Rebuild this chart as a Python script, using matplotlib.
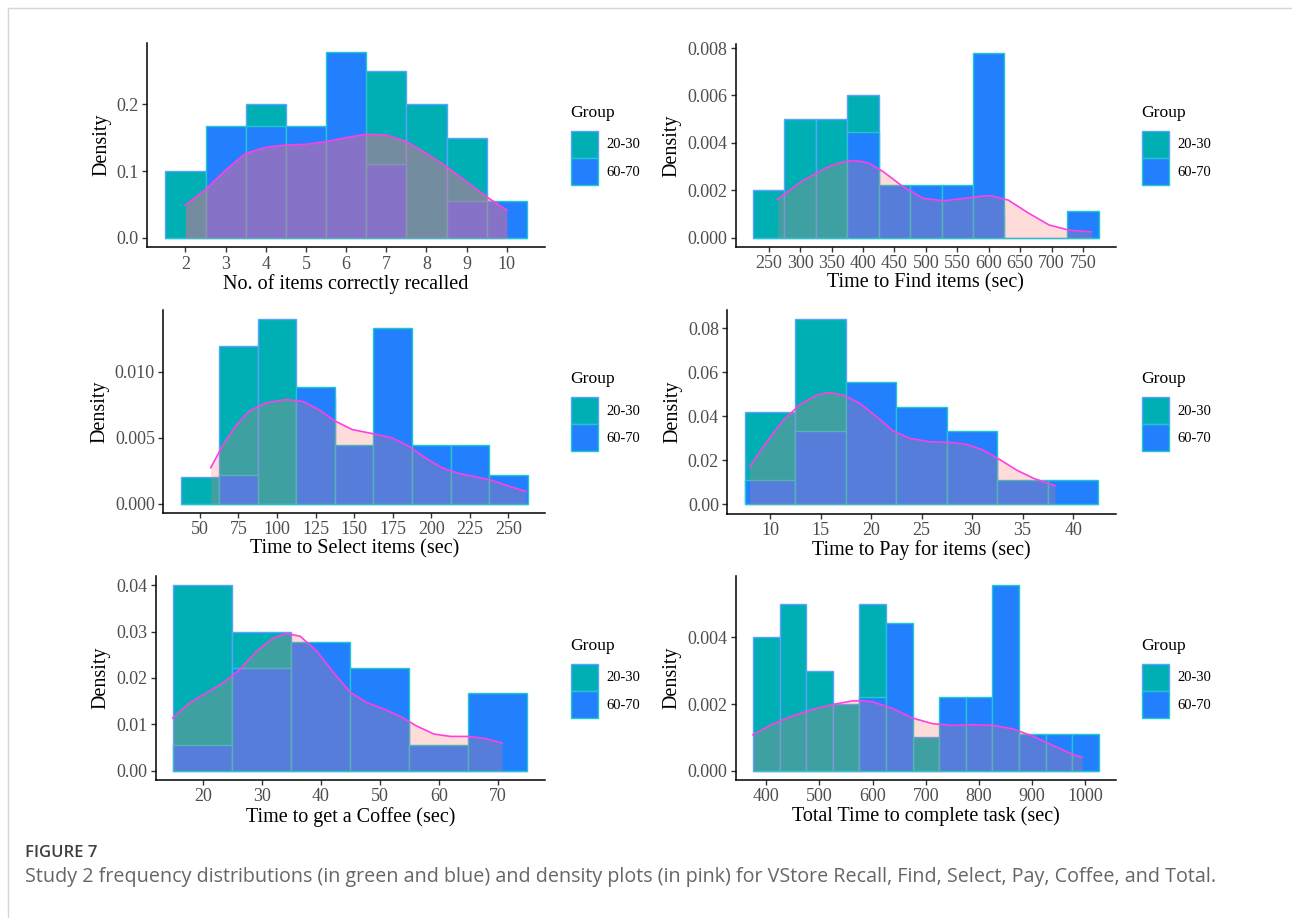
import matplotlib
matplotlib.use("Agg")
import matplotlib.pyplot as plt
from matplotlib.patches import Patch
from matplotlib.lines import Line2D

# --- data (density per bin) ---
recall_bins = [2, 3, 4, 5, 6, 7, 8, 9, 10]
recall_young = [0.10, 0.05, 0.20, 0.00, 0.05, 0.25, 0.20, 0.15, 0.00]
recall_old = [0.0, 0.167, 0.167, 0.167, 0.278, 0.111, 0.0, 0.056, 0.056]
recall_kde_x = [2, 2.5, 3, 3.5, 4, 4.5, 5, 5.5, 6, 6.5, 7, 7.5, 8, 8.5, 9, 9.5, 10]
recall_kde_y = [0.049, 0.0725, 0.1015, 0.1265, 0.1355, 0.139, 0.140, 0.144, 0.150,
                0.155, 0.154, 0.144, 0.1265, 0.1065, 0.084, 0.0615, 0.0415]

find_bins = [250, 300, 350, 400, 450, 500, 550, 600, 650, 700, 750]
find_young = [0.002, 0.005, 0.005, 0.006, 0.001, 0, 0, 0.001, 0, 0, 0]
find_old = [0, 0, 0, 0.00444, 0.00222, 0.00222, 0.00222, 0.00778, 0, 0, 0.00111]
find_kde_x = [264, 302, 340, 361, 381, 396, 410, 432, 464, 496, 529, 561, 590, 604,
              631, 664, 696, 728, 763]
find_kde_y = [0.00162, 0.00237, 0.00293, 0.00315, 0.00325, 0.00322, 0.00314, 0.00279,
              0.00215, 0.00166, 0.00156, 0.00166, 0.00176, 0.00177, 0.00159, 0.00103,
              0.00054, 0.00032, 0.00025]

select_bins = [50, 75, 100, 125, 150, 175, 200, 225, 250]
select_young = [0.002, 0.012, 0.014, 0.008, 0.002, 0.002, 0, 0, 0]
select_old = [0, 0.00222, 0, 0.00889, 0.00444, 0.01333, 0.00444, 0.00444, 0.00222]
select_kde_x = [57, 64.5, 73, 81.8, 92.6, 105.5, 116.3, 127, 137.9, 148.7, 161.6, 174.6,
                185.4, 196.2, 207, 217.8, 228.6, 239.4, 250.2, 261.4]
select_kde_y = [0.00273, 0.00437, 0.00588, 0.00702, 0.00765, 0.0079, 0.00778, 0.00715,
                0.00626, 0.00563, 0.00533, 0.0050, 0.00437, 0.00348, 0.00273, 0.0023,
                0.00205, 0.00177, 0.00134, 0.00093]

pay_bins = [10, 15, 20, 25, 30, 35, 40]
pay_young = [0.0421, 0.0842, 0.0316, 0.0211, 0.0211, 0, 0]
pay_old = [0.0111, 0.0333, 0.0556, 0.0444, 0.0333, 0.0111, 0.0111]
pay_kde_x = [7.96, 9.67, 11.3, 12.97, 14.6, 15.8, 17.25, 18.9, 20.55, 22.2, 23.85, 25.8,
             27.8, 29.45, 31.1, 32.8, 34.4, 36.1, 38.2]
pay_kde_y = [0.0171, 0.0285, 0.0383, 0.0455, 0.0497, 0.0509, 0.0497, 0.0459, 0.0398,
             0.0333, 0.0300, 0.0285, 0.0282, 0.0273, 0.0247, 0.0202, 0.0156, 0.0118, 0.0085]

coffee_bins = [20, 30, 40, 50, 60, 70]
coffee_young = [0.04, 0.03, 0.015, 0.01, 0.005, 0]
coffee_old = [0.00556, 0.0222, 0.0278, 0.0222, 0.00556, 0.0167]
coffee_kde_x = [14.9, 17.7, 20.6, 23.4, 26.25, 29.1, 31.9, 34.2, 36.5, 39.3, 42.2, 45,
                47.8, 50.7, 53.5, 56.3, 59.2, 62, 64.8, 67.7, 70.7]
coffee_kde_y = [0.01137, 0.0146, 0.0168, 0.0189, 0.0218, 0.0258, 0.0286, 0.0296, 0.0290,
                0.0258, 0.0211, 0.0169, 0.0147, 0.0133, 0.0117, 0.0096, 0.0079, 0.0074,
                0.0074, 0.0070, 0.0060]

total_bins = [400, 450, 500, 550, 600, 650, 700, 750, 800, 850, 900, 950, 1000]
total_young = [0.004, 0.005, 0.003, 0.002, 0.005, 0, 0.001, 0, 0, 0, 0, 0, 0]
total_old = [0, 0, 0, 0, 0.00222, 0.00444, 0, 0.00222, 0.00222, 0.00556, 0.00111,
             0.00111, 0.00111]
total_kde_x = [375, 409.5, 447.4, 485.3, 523, 561, 577, 599, 637, 675, 712.7, 750.6,
               788.5, 826.4, 864.3, 902, 940, 978, 993.7]
total_kde_y = [0.00108, 0.00138, 0.00163, 0.00183, 0.00198, 0.00209, 0.0021, 0.00207,
               0.00187, 0.00158, 0.00141, 0.00136, 0.00138, 0.00136, 0.00125, 0.00103,
               0.00075, 0.00048, 0.0004]

groups = ["20-30", "60-70"]

TEAL = "#00AFB3"
BLUE = "#2280FF"
TEAL_EDGE = "#5AA2FF"
BLUE_EDGE = "#20C8CC"
KDE_FILL = "#F8766D"
KDE_LINE = "#FF3FE4"

W, H = 1292, 918

plt.rcParams["font.family"] = ["Liberation Serif", "DejaVu Serif"]

fig = plt.figure(figsize=(W / 100, H / 100), dpi=100)


def px_axes(l, r, t, b):
    return fig.add_axes([l / W, 1 - b / H, (r - l) / W, (b - t) / H])


def panel(rect, bins, young, old, kx, ky, xlabel, xticks, yticks, yfmt,
          kde_fill, kde_alpha, leg_x, leg_top):
    ax = px_axes(*rect)
    w = bins[1] - bins[0]
    ax.bar(bins, young, width=w, color=TEAL, edgecolor=TEAL_EDGE, linewidth=1.0, zorder=1)
    ax.bar(bins, old, width=w, color=BLUE, edgecolor=BLUE_EDGE, linewidth=1.0, zorder=2)
    ax.fill_between(kx, ky, 0, color=kde_fill, alpha=kde_alpha, lw=0, zorder=3)
    ax.plot(kx, ky, color=KDE_LINE, lw=1.2, zorder=4)

    # ggplot-like 5% expansion on both axes
    x0, x1 = bins[0] - w / 2, bins[-1] + w / 2
    ymax = max(max(young), max(old))
    ax.set_xlim(x0 - 0.05 * (x1 - x0), x1 + 0.05 * (x1 - x0))
    ax.set_ylim(-0.05 * ymax, 1.05 * ymax)

    ax.set_xticks(xticks)
    ax.set_yticks(yticks)
    ax.set_yticklabels([yfmt.format(v) for v in yticks])

    for s in ["top", "right"]:
        ax.spines[s].set_visible(False)
    for s in ["left", "bottom"]:
        ax.spines[s].set_linewidth(1.1)
        ax.spines[s].set_color("black")
    ax.tick_params(direction="out", length=3.5, width=1.0, color="#333333",
                   labelsize=13, labelcolor="#4D4D4D", pad=2.5)
    ax.set_xlabel(xlabel, fontsize=14.5, labelpad=1)
    ax.set_ylabel("Density", fontsize=14.5, labelpad=4)

    # legend: title drawn as plain text, keys placed just under it
    fig.text(leg_x / W, 1 - (leg_top - 13.5) / H, "Group", fontsize=12.6,
             ha="left", va="baseline")
    handles = [Patch(facecolor=TEAL, edgecolor=TEAL_EDGE, linewidth=1.0),
               Patch(facecolor=BLUE, edgecolor=BLUE_EDGE, linewidth=1.0)]
    fig.legend(handles, groups, loc="upper left",
               bbox_to_anchor=((leg_x + 0.5) / W, 1 - leg_top / H),
               frameon=False, fontsize=10.5,
               handlelength=1.85, handleheight=2.48, labelspacing=0.0,
               handletextpad=0.6, borderpad=0, borderaxespad=0)
    return ax


panel((147.3, 545, 42.7, 247.3), recall_bins, recall_young, recall_old,
      recall_kde_x, recall_kde_y, "No. of items correctly recalled",
      recall_bins, [0.0, 0.1, 0.2], "{:.1f}", "#F8668A", 0.47, 570.5, 130.5)
panel((735.7, 1116, 44, 247), find_bins, find_young, find_old,
      find_kde_x, find_kde_y, "Time to Find items (sec)",
      find_bins, [0, 0.002, 0.004, 0.006, 0.008], "{:.3f}", KDE_FILL, 0.25, 1141.5, 130.5)
panel((163.3, 545, 310, 513), select_bins, select_young, select_old,
      select_kde_x, select_kde_y, "Time to Select items (sec)",
      select_bins, [0, 0.005, 0.010], "{:.3f}", KDE_FILL, 0.25, 570.5, 397)
panel((727.3, 1116, 310, 513.6), pay_bins, pay_young, pay_old,
      pay_kde_x, pay_kde_y, "Time to Pay for items (sec)",
      pay_bins, [0, 0.02, 0.04, 0.06, 0.08], "{:.2f}", KDE_FILL, 0.25, 1141.5, 397)
panel((155.7, 545, 576, 780), coffee_bins, coffee_young, coffee_old,
      coffee_kde_x, coffee_kde_y, "Time to get a Coffee (sec)",
      coffee_bins, [0, 0.01, 0.02, 0.03, 0.04], "{:.2f}", KDE_FILL, 0.25, 570.5, 663.5)
panel((735.7, 1116, 576, 780), total_bins, total_young, total_old,
      total_kde_x, total_kde_y, "Total Time to complete task (sec)",
      [400, 500, 600, 700, 800, 900, 1000], [0, 0.002, 0.004], "{:.3f}",
      KDE_FILL, 0.25, 1141.5, 663.5)

# frame around the figure area
fig.add_artist(Line2D([8 / W, 1], [1 - 8 / H, 1 - 8 / H], color="#D5D5D5", lw=1))
fig.add_artist(Line2D([8 / W, 8 / W], [0, 1 - 8 / H], color="#D5D5D5", lw=1))

fig.text(25 / W, 1 - 853 / H, "FIGURE 7", family="Open Sans", fontsize=12,
         weight="semibold", color="#3F3F3F", va="center", ha="left")
fig.text(25 / W, 1 - 877 / H,
         "Study 2 frequency distributions (in green and blue) and density plots "
         "(in pink) for VStore Recall, Find, Select, Pay, Coffee, and Total.",
         family="Open Sans", fontsize=14.2, color="#666666", va="center", ha="left")

fig.savefig("out.png", dpi=100)
